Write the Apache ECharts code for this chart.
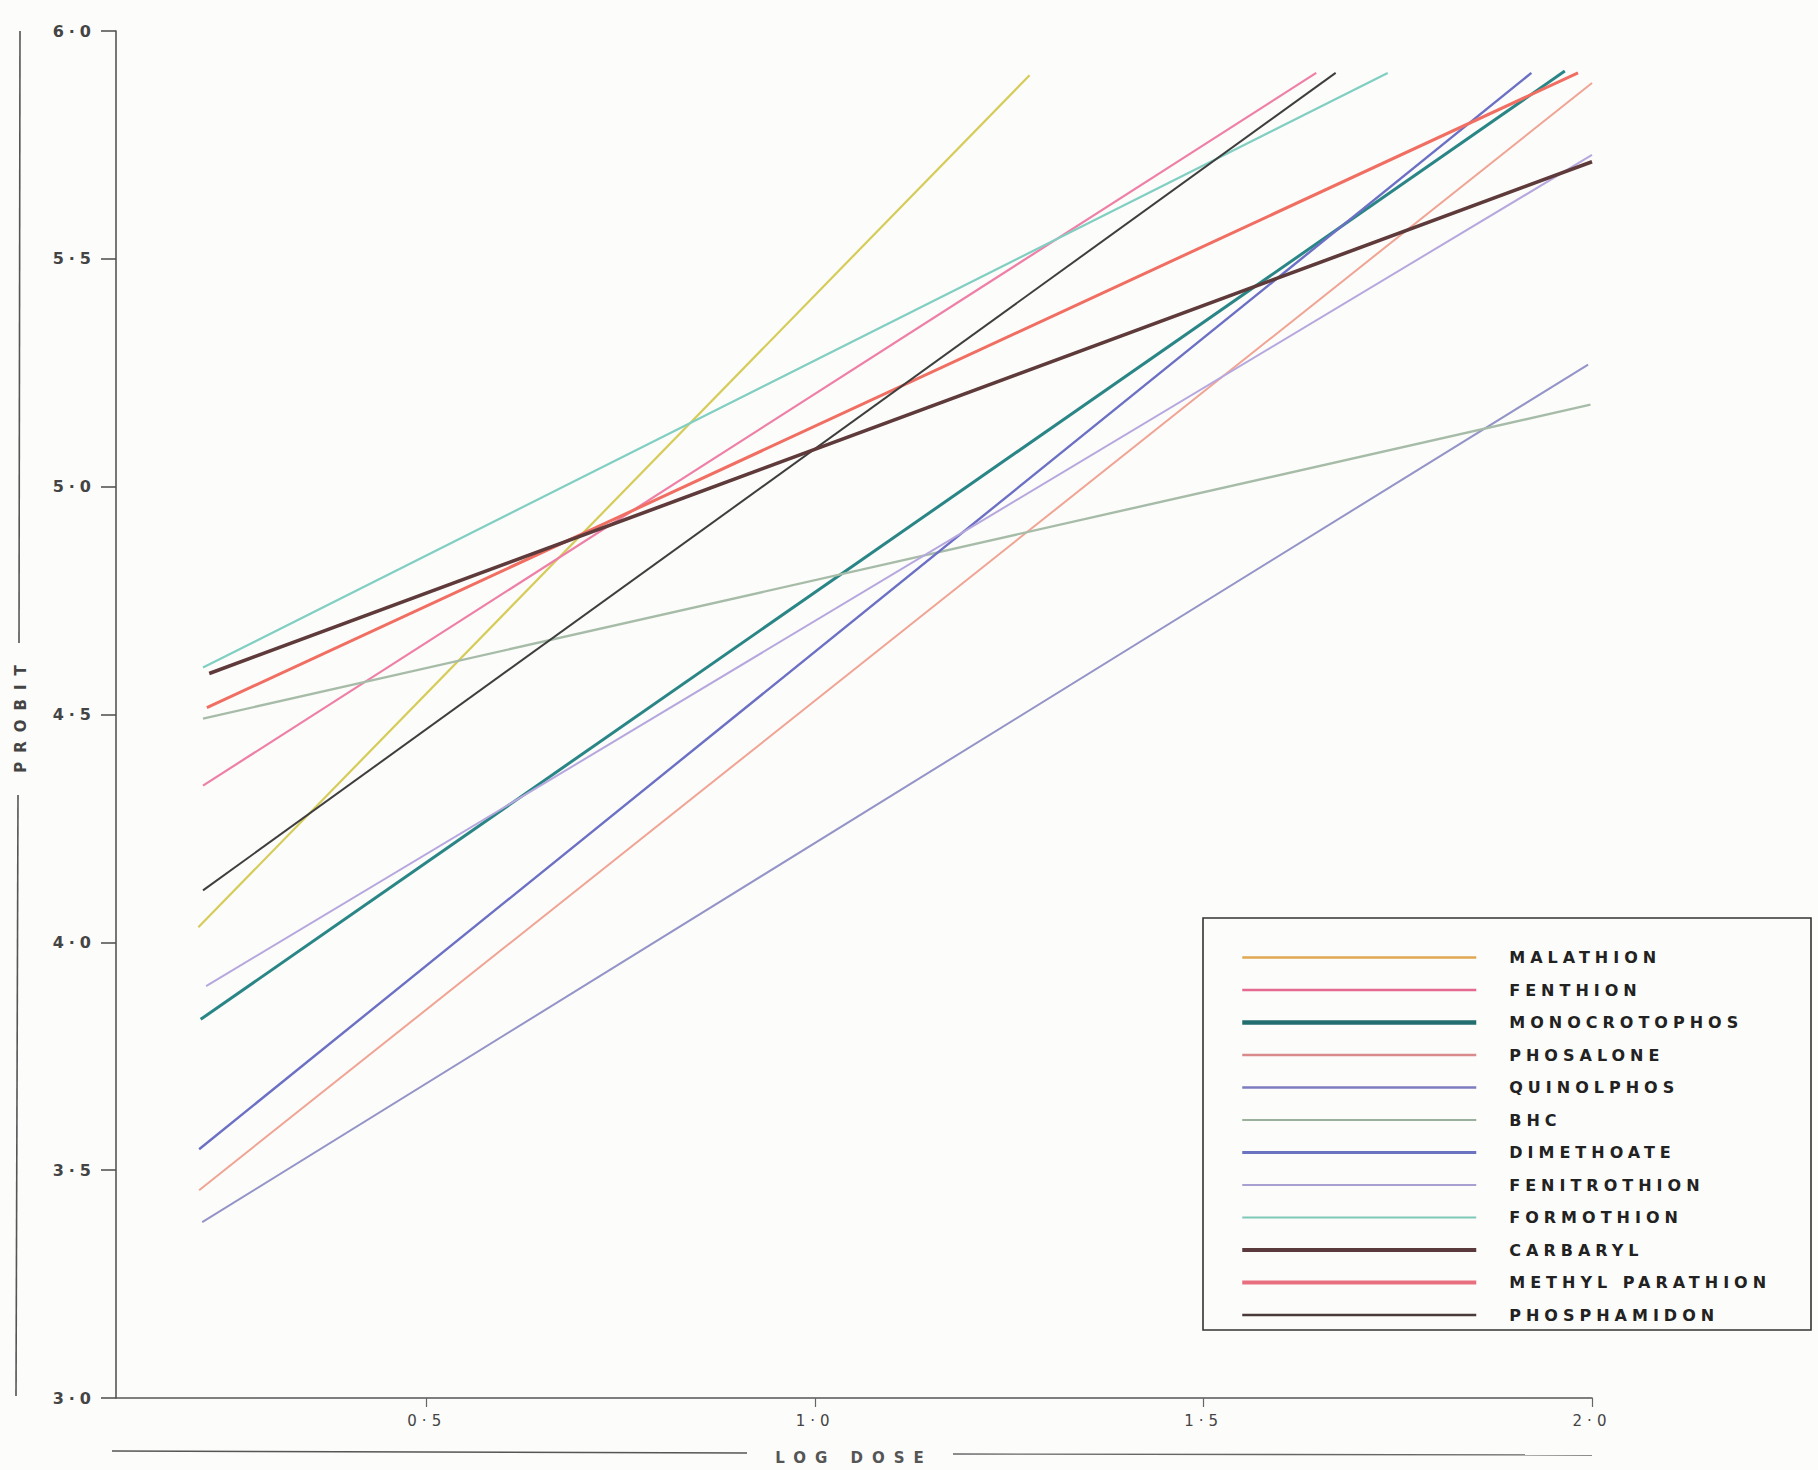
<!DOCTYPE html>
<html>
<head>
<meta charset="utf-8">
<script src="https://cdn.jsdelivr.net/npm/echarts@6/dist/echarts.min.js"></script>
<style>
html,body{margin:0;padding:0;background:#fcfcfa;}
#chart{width:1818px;height:1470px;}
</style>
</head>
<body>
<div id="chart"></div>
<script>
// ---- data (log dose, probit) : start and end of each regression line ----
const malathion       = [[0.206, 4.033], [1.276, 5.903]];
const fenthion        = [[0.212, 4.344], [1.645, 5.908]];
const monocrotophos   = [[0.209, 3.831], [1.965, 5.912]];
const phosalone       = [[0.207, 3.456], [2.000, 5.886]];
const quinolphos      = [[0.211, 3.386], [1.995, 5.268]];
const bhc             = [[0.212, 4.491], [1.998, 5.180]];
const dimethoate      = [[0.207, 3.546], [1.922, 5.908]];
const fenitrothion    = [[0.216, 3.904], [2.000, 5.728]];
const formothion      = [[0.212, 4.603], [1.737, 5.908]];
const carbaryl        = [[0.220, 4.590], [2.000, 5.713]];
const methylParathion = [[0.217, 4.515], [1.982, 5.908]];
const phosphamidon    = [[0.212, 4.114], [1.670, 5.908]];

const seriesNames = ['MALATHION','FENTHION','MONOCROTOPHOS','PHOSALONE','QUINOLPHOS','BHC',
  'DIMETHOATE','FENITROTHION','FORMOTHION','CARBARYL','METHYL PARATHION','PHOSPHAMIDON'];
const seriesData = [malathion, fenthion, monocrotophos, phosalone, quinolphos, bhc,
  dimethoate, fenitrothion, formothion, carbaryl, methylParathion, phosphamidon];

const xTickValues = [0.5, 1.0, 1.5, 2.0];
const yTickValues = [3.0, 3.5, 4.0, 4.5, 5.0, 5.5, 6.0];

// ---- styles ----
const seriesColors = ['#d6cc5a','#ee7fa6','#2a8686','#f0a494','#9494c8','#a6bca8',
  '#6c70c4','#b6a8de','#80cfc2','#5e3a3a','#f06e62','#3e3e3e'];
const seriesWidths = [2.2, 2.2, 3, 2, 2, 2.4, 2.4, 2, 2.2, 3.6, 3, 2];
const legendColors = ['#e0a852','#e46a92','#236f70','#d98a8a','#7c7cc0','#98b09c',
  '#6a74c0','#a8a0d0','#7fc8b8','#5a3a3c','#e8707e','#4a3a3a'];
const legendWidths = [2.5, 2.5, 4.5, 2.5, 2.5, 2, 3.2, 2, 2, 4, 4, 2.5];
const FONT = 'DejaVu Sans';
const fmt = v => v.toFixed(1).replace('.', '\u00b7');

const series = seriesNames.map((name, i) => ({
  name: name,
  type: 'line',
  data: seriesData[i],
  symbol: 'none',
  silent: true,
  z: i === 9 ? 5 : 2,
  lineStyle: { color: seriesColors[i], width: seriesWidths[i] },
  itemStyle: { color: seriesColors[i] }
}));

const chart = echarts.init(document.getElementById('chart'), null, { renderer: 'svg' });
chart.setOption({
  backgroundColor: '#fcfcfa',
  animation: false,
  grid: { left: 116, right: 226, top: 31, bottom: 71 },
  xAxis: {
    type: 'value', min: 0.1, max: 2.0,
    name: 'LOG DOSE', nameLocation: 'middle', nameGap: 52,
    nameTextStyle: { fontFamily: FONT, fontSize: 15, fontWeight: 'bold', color: '#555' },
    axisLine: { show: true, lineStyle: { color: '#555', width: 1.6 } },
    axisTick: { show: true, customValues: xTickValues, length: 9, lineStyle: { color: '#666', width: 1.2 } },
    axisLabel: { customValues: xTickValues, formatter: fmt, margin: 15,
      fontFamily: FONT, fontSize: 15, color: '#444' },
    splitLine: { show: false }
  },
  yAxis: {
    type: 'value', min: 3, max: 6, interval: 0.5,
    name: 'PROBIT', nameLocation: 'middle', nameGap: 88, nameRotate: 90,
    nameTextStyle: { fontFamily: FONT, fontSize: 15, fontWeight: 'bold', color: '#444' },
    axisLine: { show: true, lineStyle: { color: '#555', width: 1.6 } },
    axisTick: { show: true, length: 15, lineStyle: { color: '#555', width: 1.6 } },
    axisLabel: { formatter: fmt, margin: 20, fontFamily: FONT, fontSize: 16,
      fontWeight: 'bold', color: '#444' },
    splitLine: { show: false }
  },
  legend: {
    orient: 'vertical', left: 1240, top: 949.5, padding: 0,
    itemWidth: 234, itemHeight: 14, itemGap: 16.5,
    selectedMode: false,
    itemStyle: { opacity: 0 },
    data: seriesNames.map((n, i) => ({
      name: n,
      lineStyle: { color: legendColors[i], width: legendWidths[i] }
    })),
    textStyle: { fontFamily: FONT, fontSize: 16, fontWeight: 'bold', color: '#222',
      padding: [0, 0, 0, 28] }
  },
  graphic: [
    { type: 'rect', shape: { x: 1203, y: 918, width: 608, height: 412 },
      style: { fill: 'none', stroke: '#333', lineWidth: 1.6 }, silent: true },
    { type: 'line', shape: { x1: 20, y1: 31, x2: 19, y2: 643 },
      style: { stroke: '#555', lineWidth: 1.6 }, silent: true },
    { type: 'line', shape: { x1: 18, y1: 795, x2: 16, y2: 1396 },
      style: { stroke: '#555', lineWidth: 1.6 }, silent: true },
    { type: 'line', shape: { x1: 112, y1: 1451, x2: 747, y2: 1453 },
      style: { stroke: '#555', lineWidth: 1.4 }, silent: true },
    { type: 'line', shape: { x1: 953, y1: 1454, x2: 1592, y2: 1455 },
      style: { stroke: '#666', lineWidth: 1.4 }, silent: true }
  ],
  series: series
});

// hand-lettered look: widen letter spacing of the texts
function spaceLetters() {
  document.querySelectorAll('#chart svg text').forEach(t => {
    const s = t.textContent || '';
    let ls = 5;
    if (s === 'LOG DOSE' || s === 'PROBIT') ls = 9;
    else if (s.indexOf('\u00b7') >= 0) ls = 5;
    t.style.letterSpacing = ls + 'px';
  });
}
chart.on('finished', spaceLetters);
setTimeout(spaceLetters, 50);
setTimeout(spaceLetters, 300);
</script>
</body>
</html>
